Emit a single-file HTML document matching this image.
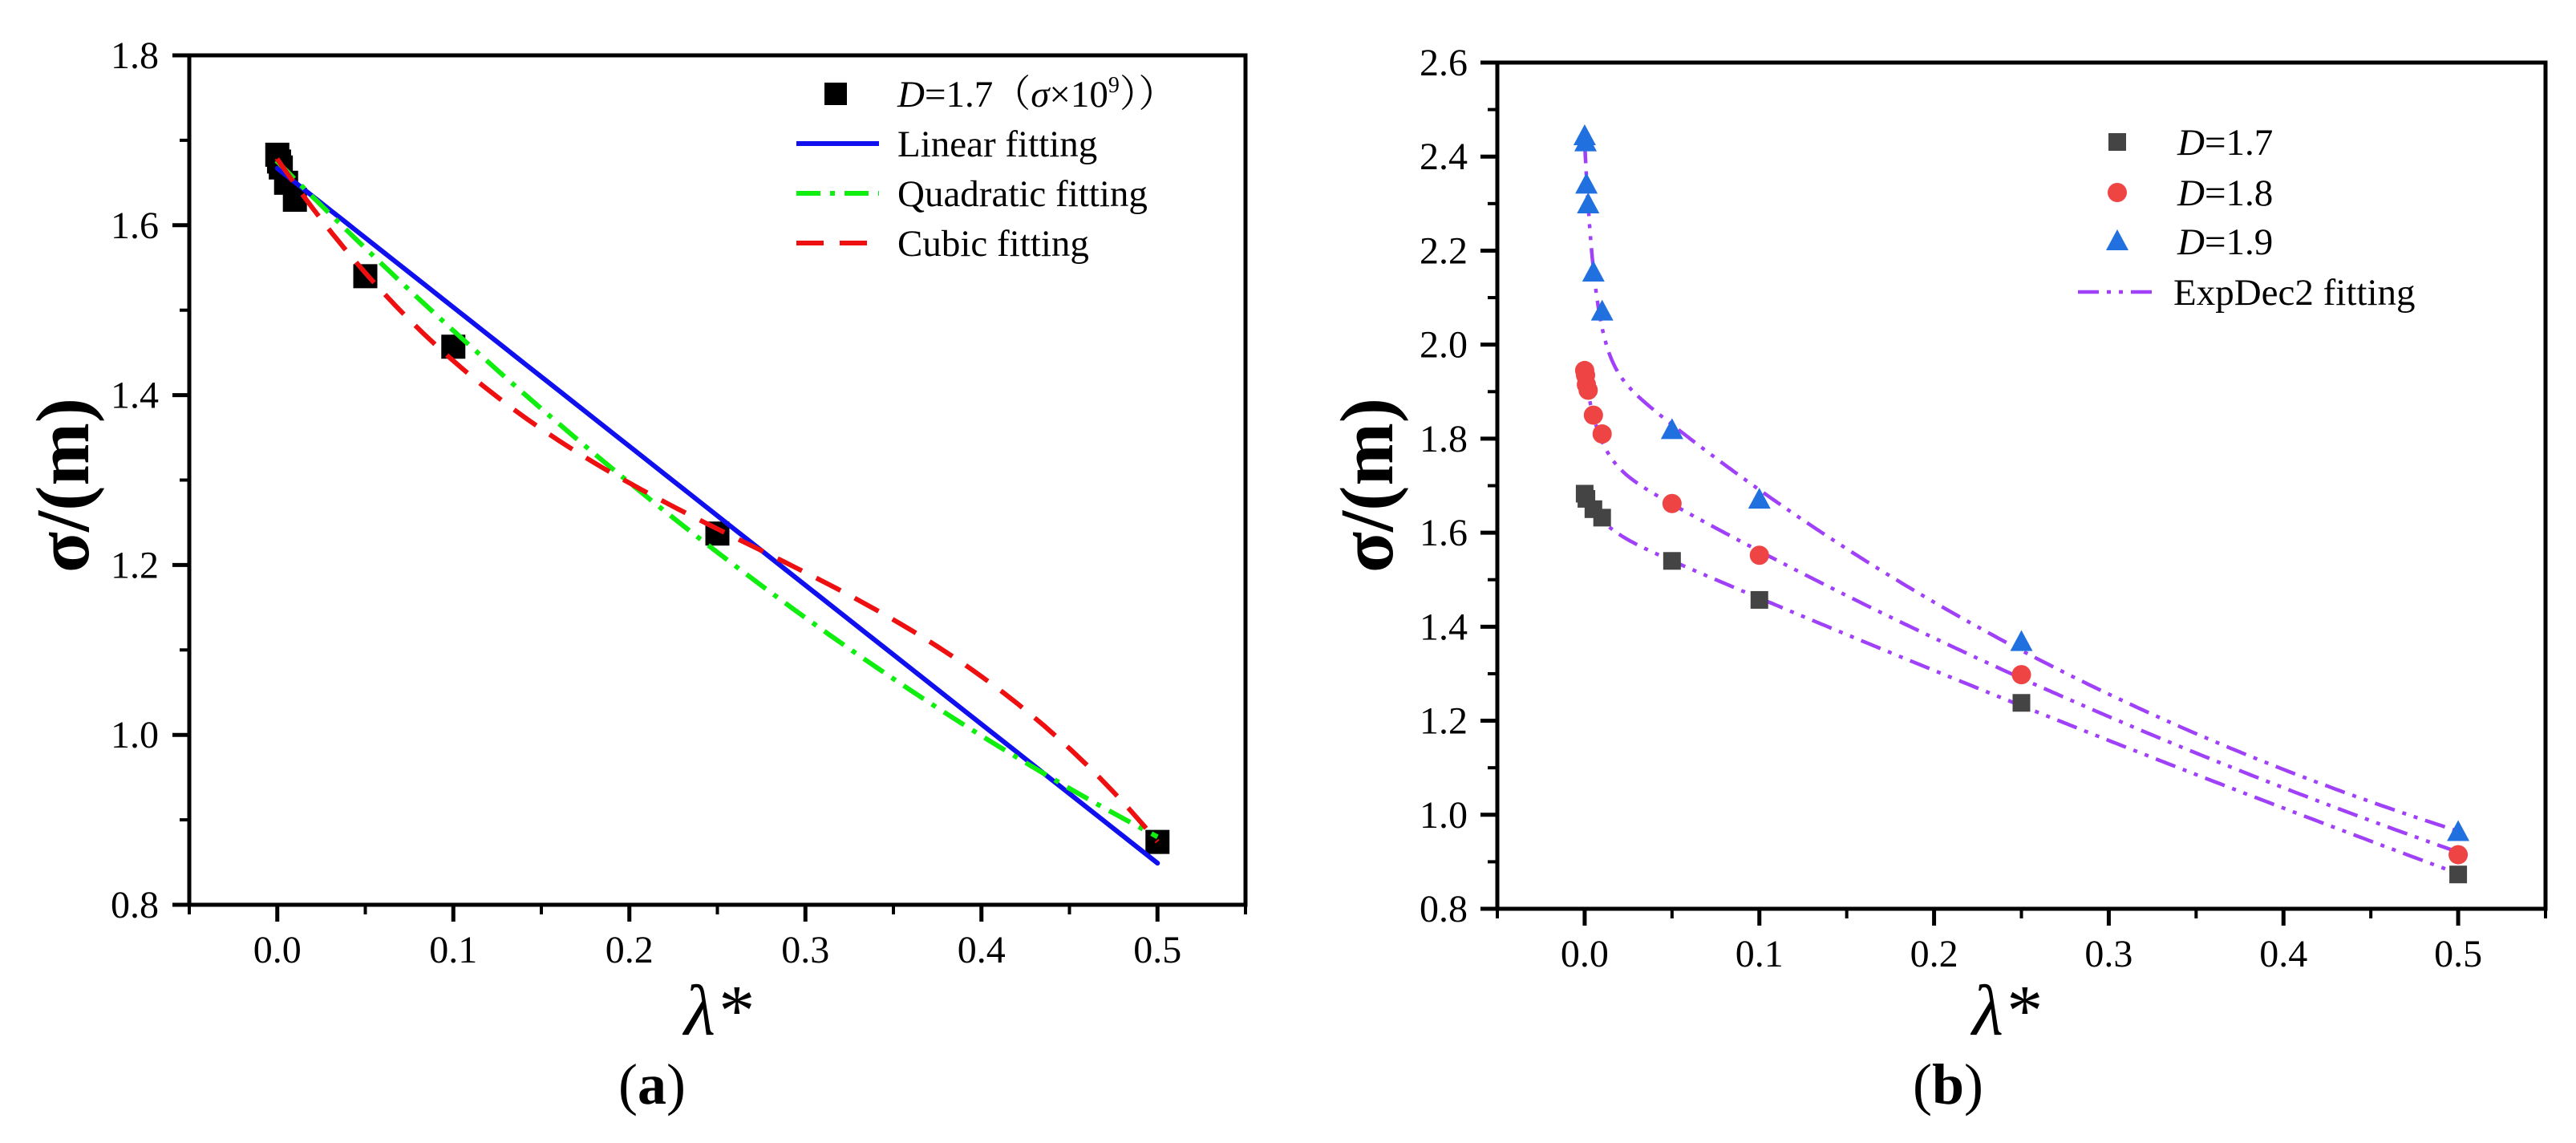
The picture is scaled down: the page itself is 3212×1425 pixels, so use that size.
<!DOCTYPE html>
<html><head><meta charset="utf-8"><style>
html,body{margin:0;padding:0;background:#fff}
svg{display:block}
svg text{font-family:"Liberation Serif","Noto Serif CJK SC",serif}
</style></head><body>
<svg id="fig" width="3212" height="1425" viewBox="0 0 3212 1425" xmlns="http://www.w3.org/2000/svg" font-family="Liberation Serif, Noto Serif CJK SC, serif"></svg>
<script>
// ---- Panel (a) data ----
const aLambda = [0, 0.001, 0.002, 0.005, 0.01, 0.05, 0.1, 0.25, 0.5];
const aSigma  = [1.683, 1.675, 1.668, 1.65, 1.63, 1.54, 1.457, 1.237, 0.874];
const linearCoef    = [1.667, -1.636];
const quadraticCoef = [1.675, -2.09, 1.0];
const cubicCoef     = [1.678, -3.03, 7.46, -9.23];
const aXTicks = [0, 0.1, 0.2, 0.3, 0.4, 0.5];
const aXTickLabels = ["0.0","0.1","0.2","0.3","0.4","0.5"];
const aYTicks = [0.8, 1.0, 1.2, 1.4, 1.6, 1.8];
const aYTickLabels = ["0.8","1.0","1.2","1.4","1.6","1.8"];

// ---- Panel (b) data ----
const b17Lambda = [0, 0.001, 0.005, 0.01, 0.05, 0.1, 0.25, 0.5];
const b17Sigma  = [1.683, 1.672, 1.65, 1.632, 1.54, 1.457, 1.238, 0.873];
const b18Lambda = [0, 0.0005, 0.001, 0.002, 0.005, 0.01, 0.05, 0.1, 0.25, 0.5];
const b18Sigma  = [1.945, 1.935, 1.915, 1.903, 1.85, 1.81, 1.662, 1.552, 1.298, 0.915];
const b19Lambda = [0, 0.0005, 0.001, 0.002, 0.005, 0.01, 0.05, 0.1, 0.25, 0.5];
const b19Sigma  = [2.443, 2.43, 2.34, 2.298, 2.153, 2.07, 1.818, 1.67, 1.367, 0.963];
// ExpDec2: y0 + A1*exp(-x/t1) + A2*exp(-x/t2)  (series 1.7, 1.8, 1.9)
const fitY0 = [-3.234, -0.381, 0.373];
const fitA1 = [0.06, 0.175, 0.447];
const fitT1 = [0.01, 0.008, 0.006];
const fitA2 = [4.854, 2.146, 1.61];
const fitT2 = [3.0, 1.0, 0.5];
const bXTicks = [0, 0.1, 0.2, 0.3, 0.4, 0.5];
const bXTickLabels = ["0.0","0.1","0.2","0.3","0.4","0.5"];
const bYTicks = [0.8, 1.0, 1.2, 1.4, 1.6, 1.8, 2.0, 2.2, 2.4, 2.6];
const bYTickLabels = ["0.8","1.0","1.2","1.4","1.6","1.8","2.0","2.2","2.4","2.6"];

const NS = "http://www.w3.org/2000/svg";
const svg = document.getElementById('fig');
const SERIF = '"Liberation Serif", "Noto Serif CJK SC", serif';
function mk(tag, attrs, parent) {
  const e = document.createElementNS(NS, tag);
  for (const k in attrs) e.setAttribute(k, attrs[k]);
  if (tag === 'text') e.style.fontFamily = SERIF;
  (parent || svg).appendChild(e);
  return e;
}
function scale(d0, d1, r0, r1) { return v => r0 + (v - d0) / (d1 - d0) * (r1 - r0); }

function axes(g, L, R, T, B, xs, ys, xTicks, xLabels, yTicks, yLabels, xMinor, yMinor, labelRight) {
  const frame = mk('rect', {x:L, y:T, width:R-L, height:B-T, fill:'none', stroke:'#000', 'stroke-width':5}, g);
  
  
  xTicks.forEach((v, i) => {
    const t = mk('line', {x1:xs(v), x2:xs(v), y1:B, y2:B+21, stroke:'#000', 'stroke-width':5}, g);
    
    
    const tx = mk('text', {x:xs(v), y:B+72, 'font-size':48, 'text-anchor':'middle'}, g);
    
    
    tx.textContent = xLabels[i];
  });
  xMinor.forEach(v => {
    const t = mk('line', {x1:xs(v), x2:xs(v), y1:B, y2:B+12, stroke:'#000', 'stroke-width':4}, g);
    
    
  });
  yTicks.forEach((v, i) => {
    const t = mk('line', {x1:L-21, x2:L, y1:ys(v), y2:ys(v), stroke:'#000', 'stroke-width':5}, g);
    
    
    const tx = mk('text', {x:labelRight, y:ys(v)+16, 'font-size':48, 'text-anchor':'end'}, g);
    
    
    tx.textContent = yLabels[i];
  });
  yMinor.forEach(v => {
    const t = mk('line', {x1:L-12, x2:L, y1:ys(v), y2:ys(v), stroke:'#000', 'stroke-width':4}, g);
    
    
  });
}
function curve(g, f, xs, ys, x0, x1, n, style, name) {
  let d = '';
  for (let i = 0; i <= n; i++) {
    const u = i / n;
    const x = x0 + (x1 - x0) * u * u;
    d += (i ? 'L' : 'M') + xs(x).toFixed(1) + ' ' + ys(f(x)).toFixed(1);
  }
  const p = mk('path', Object.assign({d:d, fill:'none'}, style), g);
  
  
  return p;
}
function titles(g, yx, yy, lx, ly, cap, capX, capY) {
  const yt = mk('text', {x:yx, y:yy, 'font-size':94, 'font-weight':'bold', 'text-anchor':'middle', transform:`rotate(-90 ${yx} ${yy})`}, g);
  
  
  yt.textContent = 'σ/(m)';
  const xt = mk('text', {x:lx, y:ly, 'font-size':90, 'font-style':'italic', 'text-anchor':'middle'}, g);
  
  
  xt.textContent = 'λ*';
  const ct = mk('text', {x:capX, y:capY, 'font-size':72, 'text-anchor':'middle'}, g);
  
  
  ct.innerHTML = '(<tspan font-weight="bold">' + cap + '</tspan>)';
}

// ===== Panel (a) =====
const ga = mk('g', {});


const axA = scale(-0.05, 0.55, 236, 1553), ayA = scale(0.8, 1.8, 1128, 69);
axes(ga, 236, 1553, 69, 1128, axA, ayA, aXTicks, aXTickLabels, aYTicks, aYTickLabels,
  [-0.05,0.05,0.15,0.25,0.35,0.45,0.55], [0.9,1.1,1.3,1.5,1.7], 198);
titles(ga, 110, 605, 895, 1290, 'a', 813, 1376);
aLambda.forEach((x, i) => {
  const r = mk('rect', {x:axA(x)-15, y:ayA(aSigma[i])-15, width:30, height:30, fill:'#000'}, ga);
  
  
});
curve(ga, x => linearCoef[0] + linearCoef[1]*x, axA, ayA, 0, 0.5, 60, {stroke:'#1010ee','stroke-width':6,'stroke-linecap':'round'}, 'linear-fit-line');
curve(ga, x => quadraticCoef[0] + quadraticCoef[1]*x + quadraticCoef[2]*x*x, axA, ayA, 0, 0.5, 120, {stroke:'#10ee10','stroke-width':6,'stroke-dasharray':'30 12 6 12'}, 'quadratic-fit-line');
curve(ga, x => cubicCoef[0] + cubicCoef[1]*x + cubicCoef[2]*x*x + cubicCoef[3]*x*x*x, axA, ayA, 0, 0.5, 120, {stroke:'#ee1010','stroke-width':6,'stroke-dasharray':'34 20'}, 'cubic-fit-line');
// legend a
const la = mk('g', {});


ga.appendChild(la);
let e = mk('rect', {x:1028, y:103, width:28, height:28, fill:'#000'}, la);


e = mk('text', {x:1119, y:133, 'font-size':47}, la);


e.innerHTML = '<tspan font-style="italic">D</tspan>=1.7（<tspan font-style="italic">σ</tspan>×10<tspan font-size="28" dy="-18">9</tspan><tspan dy="18">））</tspan>';
const legA = [['Linear fitting', {stroke:'#1010ee'}], ['Quadratic fitting', {stroke:'#10ee10','stroke-dasharray':'30 12 6 12'}], ['Cubic fitting', {stroke:'#ee1010','stroke-dasharray':'34 20'}]];
legA.forEach((it, i) => {
  const y = 179 + i*62;
  const l = mk('line', Object.assign({x1:993, x2:1096, y1:y, y2:y, 'stroke-width':6}, it[1]), la);
  
  
  const t = mk('text', {x:1119, y:y+16, 'font-size':47}, la);
  
  
  t.textContent = it[0];
});

// ===== Panel (b) =====
const gb = mk('g', {});


const axB = scale(-0.05, 0.55, 1867, 3174), ayB = scale(0.8, 2.6, 1133, 78);
axes(gb, 1867, 3174, 78, 1133, axB, ayB, bXTicks, bXTickLabels, bYTicks, bYTickLabels,
  [-0.05,0.05,0.15,0.25,0.35,0.45,0.55], [0.9,1.1,1.3,1.5,1.7,1.9,2.1,2.3,2.5], 1830);
titles(gb, 1736, 605, 2501, 1290, 'b', 2429, 1376);
const purple = {stroke:'#a040f8','stroke-width':4.5,'stroke-dasharray':'26 10 5 10 5 10'};
[0,1,2].forEach(k => {
  curve(gb, x => fitY0[k] + fitA1[k]*Math.exp(-x/fitT1[k]) + fitA2[k]*Math.exp(-x/fitT2[k]), axB, ayB, 0, 0.5, 400, purple, 'expdec2-fit-line');
});
b17Lambda.forEach((x, i) => {
  const r = mk('rect', {x:axB(x)-11, y:ayB(b17Sigma[i])-11, width:22, height:22, fill:'#444'}, gb);
  
  
});
b18Lambda.forEach((x, i) => {
  const c = mk('circle', {cx:axB(x), cy:ayB(b18Sigma[i]), r:12, fill:'#ee4444'}, gb);
  
  
});
b19Lambda.forEach((x, i) => {
  const cx = axB(x), cy = ayB(b19Sigma[i]);
  const p = mk('polygon', {points:`${cx},${cy-15} ${cx-14},${cy+11} ${cx+14},${cy+11}`, fill:'#2070e0'}, gb);
  
  
});
// legend b
const lb = mk('g', {});


gb.appendChild(lb);
e = mk('rect', {x:2629, y:166, width:22, height:22, fill:'#444'}, lb);


e = mk('circle', {cx:2640, cy:240, r:12, fill:'#ee4444'}, lb);


e = mk('polygon', {points:'2640,286 2626,312 2654,312', fill:'#2070e0'}, lb);


['1.7','1.8','1.9'].forEach((v, i) => {
  const y = [177,240,301][i];
  const t = mk('text', {x:2715, y:y+16, 'font-size':47}, lb);
  
  
  t.innerHTML = '<tspan font-style="italic">D</tspan>=' + v;
});
e = mk('line', Object.assign({x1:2591, x2:2688, y1:364, y2:364}, purple), lb);


e = mk('text', {x:2710, y:380, 'font-size':47}, lb);


e.textContent = 'ExpDec2 fitting';
</script>
</body></html>
